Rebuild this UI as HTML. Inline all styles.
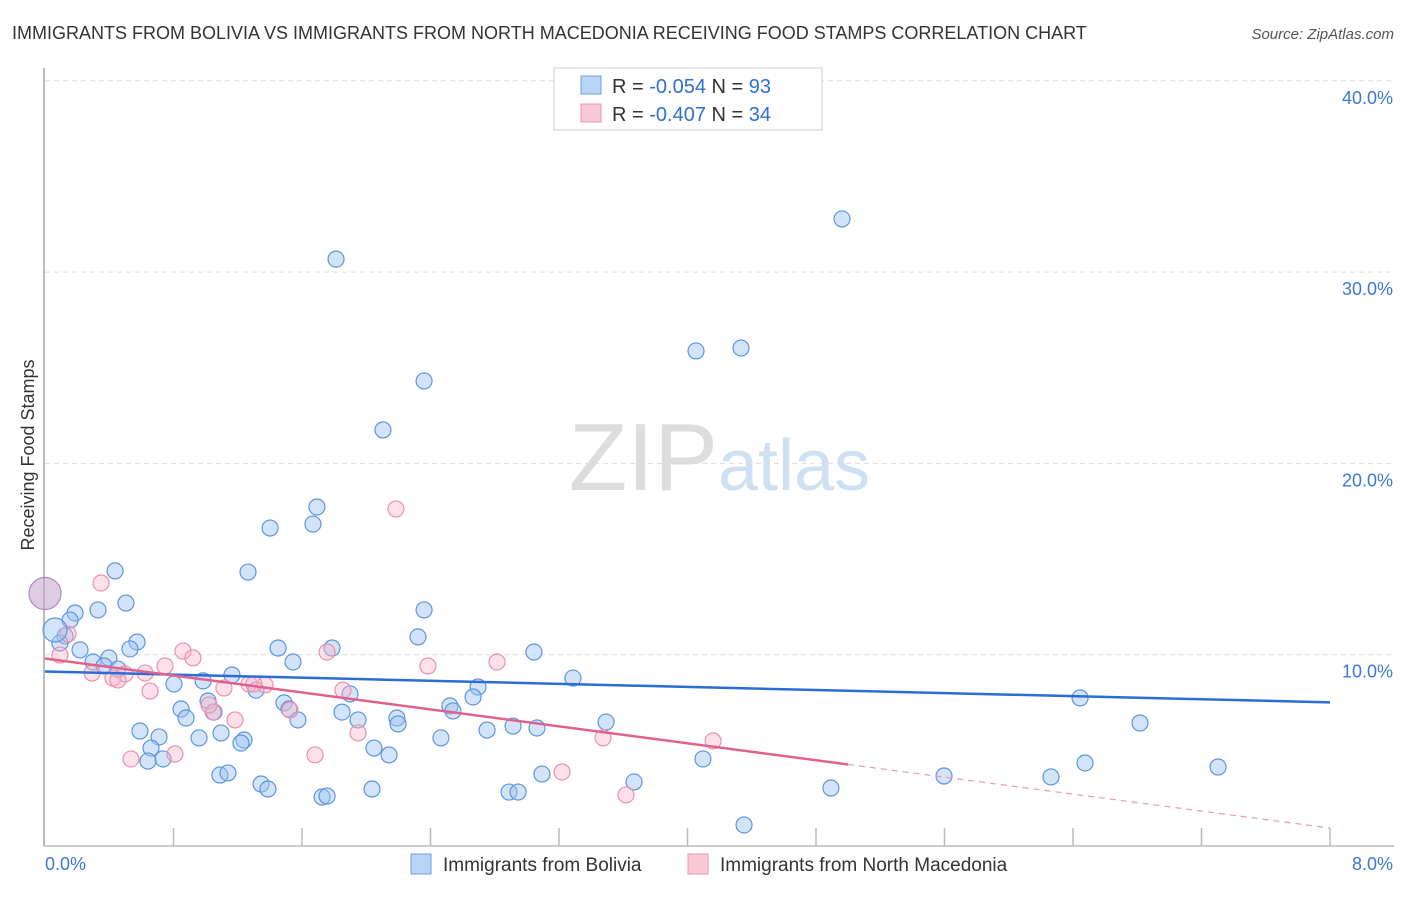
<!DOCTYPE html>
<html><head><meta charset="utf-8"><style>
body{margin:0;background:#fff;font-family:"Liberation Sans",sans-serif}
svg text{font-family:"Liberation Sans",sans-serif}
</style></head><body>
<svg id="chart" width="1406" height="892">
<text x="12" y="39" font-size="18" fill="#333">IMMIGRANTS FROM BOLIVIA VS IMMIGRANTS FROM NORTH MACEDONIA RECEIVING FOOD STAMPS CORRELATION CHART</text>
<text x="1394" y="39" font-size="15" fill="#555" text-anchor="end" font-style="italic">Source: ZipAtlas.com</text>
<text x="718" y="490" font-size="96" fill="#ddd" text-anchor="end" font-family="Liberation Serif">ZIP</text>
<text x="718" y="490" font-size="72" fill="#cfe0f3">atlas</text>
<g id="grid"></g><g id="pts"></g><g id="lines"></g>
<text x="34" y="455" font-size="18" fill="#333" text-anchor="middle" transform="rotate(-90 34 455)">Receiving Food Stamps</text>
<g>
<rect x="554" y="68" width="268" height="62" fill="#fff" stroke="#ccc"/>
<rect x="581" y="76" width="20" height="18" fill="#b9d4f5" stroke="#6a9fe0"/>
<rect x="581" y="104" width="20" height="18" fill="#f9c8d6" stroke="#e89ab2"/>
<text x="612" y="93" font-size="20" fill="#333">R = <tspan fill="#2f6fd4">-0.054</tspan>   N = <tspan fill="#2f6fd4">93</tspan></text>
<text x="612" y="121" font-size="20" fill="#333">R = <tspan fill="#2f6fd4">-0.407</tspan>   N = <tspan fill="#2f6fd4">34</tspan></text>
</g>
<g>
<rect x="411" y="854" width="20" height="20" fill="#b9d4f5" stroke="#6a9fe0"/>
<text x="443" y="871" font-size="19" fill="#333">Immigrants from Bolivia</text>
<rect x="688" y="854" width="20" height="20" fill="#f9c8d6" stroke="#e89ab2"/>
<text x="720" y="871" font-size="19" fill="#333">Immigrants from North Macedonia</text>
</g>
</svg>
<script>
const yTicks=[10,20,30,40];
const xTickLabels=["0.0%","8.0%"];
const bluePx=[[336,259],[842,219],[696,351],[741,348],[424,381],[383,430],[317,507],[313,524],[270,528],[248,572],[115,571],[126,603],[98,610],[75,613],[70,620],[424,610],[418,637],[137,642],[130,649],[65,636],[60,643],[80,650],[109,658],[93,662],[104,666],[118,669],[278,648],[332,648],[534,652],[293,662],[232,675],[203,681],[174,684],[256,690],[284,703],[289,709],[350,694],[342,712],[478,687],[473,697],[450,706],[453,711],[208,701],[181,709],[186,718],[214,712],[298,720],[358,720],[397,718],[398,724],[487,730],[513,726],[537,728],[606,722],[573,678],[1080,698],[1140,723],[140,731],[159,737],[221,733],[199,738],[244,740],[241,743],[151,748],[374,748],[389,755],[441,738],[163,759],[148,761],[220,775],[228,773],[261,784],[268,789],[322,797],[327,796],[372,789],[509,792],[518,792],[542,774],[634,782],[703,759],[831,788],[944,776],[1051,777],[1085,763],[1218,767],[744,825]];
const pinkPx=[[101,583],[183,651],[193,658],[165,666],[145,673],[125,674],[92,673],[113,678],[118,680],[150,691],[224,688],[249,684],[265,685],[290,710],[213,712],[235,720],[343,690],[358,733],[428,666],[497,662],[327,652],[396,509],[175,754],[131,759],[209,705],[315,755],[562,772],[603,738],[713,741],[626,795],[60,655],[68,634],[254,684]];
// data values (x in %, y in %)
const blueX=bluePx.map(p=>+((p[0]-45)*8/1285).toFixed(3));
const blueY=bluePx.map(p=>+((846-p[1])/19.13).toFixed(2));
const pinkX=pinkPx.map(p=>+((p[0]-45)*8/1285).toFixed(3));
const pinkY=pinkPx.map(p=>+((846-p[1])/19.13).toFixed(2));
const blueTrend=[9.12,7.51]; // y at x=0 and x=8
const pinkTrend=[9.80,0.94];
const pinkSolidEnd=5.0;
const X=v=>45+v/8*1285, Y=v=>846-v*19.13;
const NS="http://www.w3.org/2000/svg";
function mk(t,a,p){const e=document.createElementNS(NS,t);for(const k in a)e.setAttribute(k,a[k]);p.appendChild(e);return e;}
const g=document.getElementById('grid');
yTicks.forEach(t=>{
 const l=mk('line',{x1:45,x2:1394,y1:Y(t),y2:Y(t),stroke:'#ddd','stroke-dasharray':'5,4'},g);
 
 
 const tx=mk('text',{x:1393,y:Y(t)+23,'font-size':18,fill:'#3b78d8','text-anchor':'end'},g);
 tx.textContent=t.toFixed(1)+'%';
 
 
});
const ax=mk('line',{x1:44,x2:44,y1:68,y2:846,stroke:'#bbb','stroke-width':2},g);


const bx=mk('line',{x1:44,x2:1394,y1:846,y2:846,stroke:'#bbb','stroke-width':1.5},g);


for(let i=1;i<=10;i++){const t=mk('line',{x1:X(i*0.8),x2:X(i*0.8),y1:828,y2:846,stroke:'#bbb','stroke-width':1.5},g);
 
 }
[[xTickLabels[0],45,'start'],[xTickLabels[1],1393,'end']].forEach(a=>{const t=mk('text',{x:a[1],y:870,'font-size':18,fill:'#3b78d8','text-anchor':a[2]},g);t.textContent=a[0];
 
 });
const P=document.getElementById('pts');
blueX.forEach((x,i)=>{const c=mk('circle',{cx:X(x),cy:Y(blueY[i]),r:8,fill:'rgba(160,196,240,0.45)',stroke:'#5b95e0','stroke-width':1.2},P);
 
 });
pinkX.forEach((x,i)=>{const c=mk('circle',{cx:X(x),cy:Y(pinkY[i]),r:8,fill:'rgba(248,180,200,0.4)',stroke:'#ec90ad','stroke-width':1.2},P);
 
 });
const big=mk('circle',{cx:45,cy:Y(13.2),r:16,fill:'rgba(200,170,210,0.6)',stroke:'#b08ac0','stroke-width':1.2},P);


const big2=mk('circle',{cx:55,cy:630,r:12,fill:'rgba(160,196,240,0.45)',stroke:'#5b95e0','stroke-width':1.2},P);


const L=document.getElementById('lines');
const bl=mk('line',{x1:X(0),y1:Y(blueTrend[0]),x2:X(8),y2:Y(blueTrend[1]),stroke:'#2a6dd6','stroke-width':2.5},L);


const py=x=>pinkTrend[0]+(pinkTrend[1]-pinkTrend[0])*x/8;
const pl=mk('line',{x1:X(0),y1:Y(py(0)),x2:X(pinkSolidEnd),y2:Y(py(pinkSolidEnd)),stroke:'#e0628c','stroke-width':2.5},L);


const pd=mk('line',{x1:X(pinkSolidEnd),y1:Y(py(pinkSolidEnd)),x2:X(8),y2:Y(py(8)),stroke:'#e89ab2','stroke-width':1.2,'stroke-dasharray':'6,5'},L);


</script>
</body></html>
